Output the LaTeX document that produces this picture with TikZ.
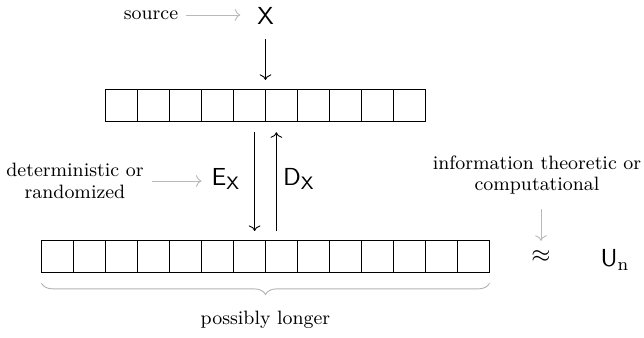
\documentclass[tikz,border=0pt]{standalone}
\usepackage{tikz}
\usetikzlibrary{arrows.meta, positioning, fit, calc, decorations.pathreplacing}
\tikzset{
  cell/.style={draw, minimum size=5mm, inner sep=0pt, outer sep=0pt},
  row/.style={inner sep=0pt, outer sep=0pt},
  flow/.style={->, draw=black},
  note/.style={->, draw=gray!55},
  lbl/.style={font=\fontsize{8.6}{9.6}\selectfont, align=center},
  sym/.style={font=\fontsize{11}{13}\selectfont},
  brace/.style={draw=gray!60, decorate,
                decoration={brace, amplitude=5pt, raise=5pt}},
}

\begin{document}
\begin{tikzpicture}[x=0.015625cm, y=-0.015625cm]
  \useasboundingbox (0,0) rectangle (644,338);
  % cells
  \foreach \i in {0,...,9}
    \node[cell] (t\i) at (121.5+32*\i, 105) {};
  \foreach \i in {0,...,13}
    \node[cell] (b\i) at (57.5+32*\i, 256) {};
  \node[row, fit=(t0)(t9)] (top) {};
  \node[row, fit=(b0)(b13)] (bot) {};
  % source
  \node[sym] (x) at (265.5, 16) {$\mathsf{X}$};
  \node[lbl] (src) at (151, 15) {source};
  \draw[note, shorten >=4pt] (src.east) -- (src.east -| x.west);
  \draw[flow, shorten <=3pt, shorten >=4pt] (x) -- (top.north -| x);
  % encode / decode
  \draw[flow, shorten <=5pt, shorten >=4pt]
    ([xshift=-0.17cm]top.south) -- ([xshift=-0.17cm]bot.north);
  \draw[flow, shorten <=4pt, shorten >=5pt]
    ([xshift=0.17cm]bot.north) -- ([xshift=0.17cm]top.south);
  \node[sym] (ex) at (226, 179) {$\mathsf{E}_{\mathsf{X}}$};
  \node[sym] (dx) at (299, 179) {$\mathsf{D}_{\mathsf{X}}$};
  \node[lbl] (det) at (75, 181) {deterministic or\\randomized};
  \draw[note, shorten >=1pt] (det.east) -- (det.east -| ex.west);
  % output
  \node[sym] (apx) at (541, 257) {$\approx$};
  \node[sym] (un) at (615, 260) {$\mathsf{U}_{\mathrm{n}}$};
  \node[lbl] (info) at (537, 175) {information theoretic or\\computational};
  \draw[note, shorten <=3pt, shorten >=1pt] (info.south -| apx) -- (apx);
  % brace
  \draw[brace] (bot.south east) -- (bot.south west);
  \node[lbl] (longer) at (265.5, 320) {possibly longer};
\end{tikzpicture}
\end{document}
